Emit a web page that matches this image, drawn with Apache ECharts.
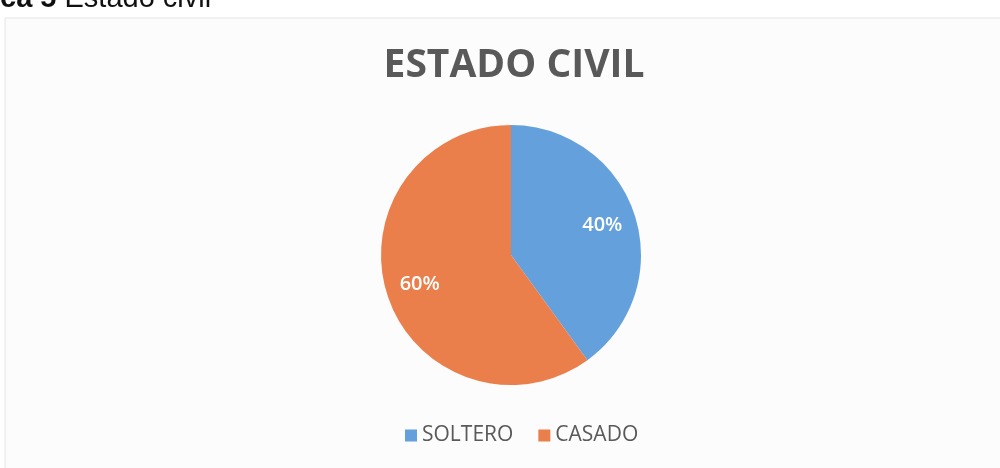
<!DOCTYPE html>
<html>
<head>
<meta charset="utf-8">
<script src="https://cdn.jsdelivr.net/npm/echarts@6/dist/echarts.min.js"></script>
<style>
  html, body { margin: 0; padding: 0; background: #ffffff; }
  #chart { width: 1000px; height: 468px; }
</style>
</head>
<body>
<div id="chart"></div>
<script>
// data
const categories = ['SOLTERO', 'CASADO']
const values = [40, 60]
const colors = ['#64A0DC', '#EB7F4C']

const chart = echarts.init(document.getElementById('chart'))

const pieData = categories.map((name, i) => ({
  name: name,
  value: values[i],
  itemStyle: { color: colors[i] },
}))

chart.setOption({
  backgroundColor: '#ffffff',
  animation: false,
  graphic: [
    // chart frame
    {
      type: 'rect',
      shape: { x: 5, y: 18, width: 1010, height: 470 },
      style: { fill: '#fcfcfc', stroke: '#e4e4e4', lineWidth: 1 },
      silent: true,
      z: -10,
    },
    // caption cut at the top of the scan
    {
      type: 'text',
      x: 0,
      y: -1,
      style: {
        text: '{b|ca 5 }{r|Estado civil}',
        rich: {
          b: { fontFamily: 'Liberation Sans', fontWeight: 'bold', fontSize: 29, fill: '#111' },
          r: { fontFamily: 'Liberation Sans', fontSize: 29, fill: '#111' },
        },
        verticalAlign: 'middle',
      },
      silent: true,
    },
  ],
  title: {
    text: 'ESTADO CIVIL',
    left: 509,
    textAlign: 'center',
    top: 41,
    textStyle: {
      fontFamily: 'Open Sans',
      fontWeight: 'bold',
      fontSize: 39,
      color: '#595959',
    },
  },
  legend: {
    bottom: 17,
    left: 400,
    itemWidth: 12,
    itemHeight: 12,
    itemGap: 25,
    icon: 'rect',
    textStyle: {
      fontFamily: 'Open Sans',
      fontSize: 21,
      color: '#595959',
    },
    data: categories,
  },
  series: [
    {
      type: 'pie',
      center: [511, 255],
      radius: [0, 130],
      startAngle: 90,
      clockwise: true,
      label: { show: false },
      labelLine: { show: false },
      data: pieData,
    },
    // invisible ring carrying the percentage labels further out
    {
      type: 'pie',
      center: [511, 255],
      radius: [56, 130],
      startAngle: 90,
      clockwise: true,
      silent: true,
      itemStyle: { color: 'rgba(0,0,0,0)' },
      label: {
        show: true,
        position: 'inside',
        formatter: '{c}%',
        fontFamily: 'Open Sans',
        fontSize: 20,
        fontWeight: 600,
        color: '#ffffff',
      },
      labelLine: { show: false },
      data: values.map((v, i) => ({ name: categories[i] + '_l', value: v })),
      z: 3,
    },
  ],
})
</script>
</body>
</html>
